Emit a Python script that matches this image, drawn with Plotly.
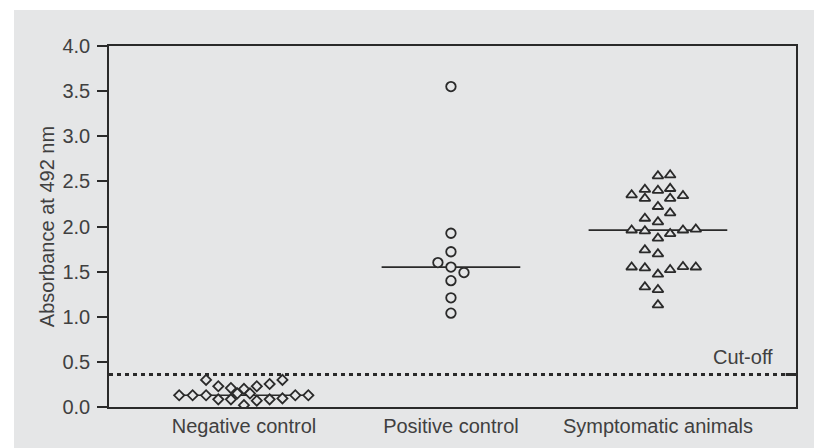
import plotly.graph_objects as go

# ---------------- data ----------------
categories = ["Negative control", "Positive control", "Symptomatic animals"]
category_pos = [1, 2, 3]

neg_values = [0.30, 0.23, 0.21, 0.20, 0.23, 0.255, 0.30,
              0.13, 0.13, 0.13, 0.085, 0.085, 0.15, 0.15,
              0.07, 0.085, 0.095, 0.13, 0.13, 0.02]
neg_offsets = [-0.183, -0.124, -0.063, 0.0, 0.062, 0.124, 0.186,
               -0.313, -0.248, -0.183, -0.124, -0.063, -0.032, 0.029,
               0.062, 0.124, 0.186, 0.248, 0.311, 0.0]

pos_values = [3.55, 1.925, 1.72, 1.60, 1.55, 1.49, 1.40, 1.21, 1.04]
pos_offsets = [0.0, 0.0, 0.0, -0.063, 0.0, 0.063, 0.0, 0.0, 0.0]

sym_values = [2.56, 2.57,
              2.41, 2.40, 2.42,
              2.35, 2.31, 2.31, 2.34,
              2.22, 2.15,
              2.09, 2.05,
              1.96, 1.95, 1.92, 1.96, 1.97, 1.87,
              1.74, 1.695,
              1.55, 1.54, 1.47, 1.52, 1.555, 1.55,
              1.33, 1.30,
              1.13]
sym_offsets = [0.0, 0.059,
               -0.063, 0.0, 0.059,
               -0.127, -0.063, 0.059, 0.121,
               0.0, 0.059,
               -0.063, 0.0,
               -0.127, -0.063, 0.059, 0.121, 0.183, 0.0,
               -0.063, 0.0,
               -0.127, -0.063, 0.0, 0.059, 0.121, 0.183,
               -0.063, 0.0,
               0.0]

medians = [0.13, 1.55, 1.96]
cutoff = 0.36
y_ticks = [0.0, 0.5, 1.0, 1.5, 2.0, 2.5, 3.0, 3.5, 4.0]

# ---------------- style ----------------
BG = "#e5e6e7"
INK = "#2a2a2a"
TXT = "#404040"
FONT = "Liberation Sans, Arial, sans-serif"
FS = 20
OFF = 8  # page body margin of the html page
W, H = 822 - OFF, 448 - OFF
ML, MR, MT, MB = 109 - OFF, 26, 46 - OFF, 41
PW, PH = W - ML - MR, H - MT - MB

fig = go.Figure()

# median lines
for c, m in zip(category_pos, medians):
    fig.add_trace(go.Scatter(
        x=[c - 0.335, c + 0.335], y=[m, m], mode="lines",
        line=dict(color=INK, width=1.6), hoverinfo="skip", showlegend=False))

groups = [
    (neg_values, neg_offsets, category_pos[0], "diamond", 7.8),
    (pos_values, pos_offsets, category_pos[1], "circle", 9.5),
    (sym_values, sym_offsets, category_pos[2], "triangle-up", 9.5),
]
for vals, offs, c, sym, size in groups:
    fig.add_trace(go.Scatter(
        x=[c + o for o in offs], y=vals, mode="markers",
        marker=dict(symbol=sym, size=size, color=BG,
                    line=dict(color=INK, width=1.8)),
        showlegend=False))

# gray panel background (white strip top & left as in the reference)
fig.add_shape(type="rect", xref="paper", yref="paper", layer="below",
              x0=(14 - OFF - ML) / PW, x1=(W + 5 - ML) / PW,
              y0=-(MB + 5) / PH, y1=(H - MB - (10 - OFF)) / PH,
              fillcolor=BG, line=dict(width=0))

# cut-off line
fig.add_shape(type="line", xref="paper", yref="y", x0=0, x1=1,
              y0=cutoff, y1=cutoff,
              line=dict(color=INK, width=3, dash="4px,4px"))
fig.add_shape(type="line", xref="paper", yref="y", x0=0.985, x1=1,
              y0=cutoff, y1=cutoff, line=dict(color=INK, width=3))
fig.add_annotation(xref="paper", yref="y", x=(775 - 109) / PW, y=cutoff,
                   xanchor="right", yanchor="middle", yshift=18,
                   text="Cut-off", showarrow=False,
                   font=dict(family=FONT, size=FS, color=TXT))

fig.update_layout(
    width=W, height=H,
    margin=dict(l=ML, r=MR, t=MT, b=MB, pad=0),
    paper_bgcolor="white", plot_bgcolor="rgba(0,0,0,0)",
    font=dict(family=FONT, size=FS, color=TXT),
)
fig.update_xaxes(
    range=[0.348, 3.667], tickvals=category_pos, ticktext=categories,
    ticks="", showline=True, linecolor=INK, linewidth=1.5, mirror=True,
    showgrid=False, zeroline=False, automargin=False,
    tickfont=dict(family=FONT, size=FS, color=TXT),
)
fig.update_yaxes(
    range=[0, 4], tickvals=y_ticks, tickformat=".1f",
    ticks="outside", ticklen=10, tickwidth=1.5, tickcolor=INK,
    ticklabelstandoff=3,
    showline=True, linecolor=INK, linewidth=1.5, mirror=True,
    showgrid=False, zeroline=False, automargin=False,
    tickfont=dict(family=FONT, size=FS, color=TXT),
    title=dict(text="Absorbance at 492 nm", standoff=2,
               font=dict(family=FONT, size=FS, color=TXT)),
)

fig.write_html("out.html")
